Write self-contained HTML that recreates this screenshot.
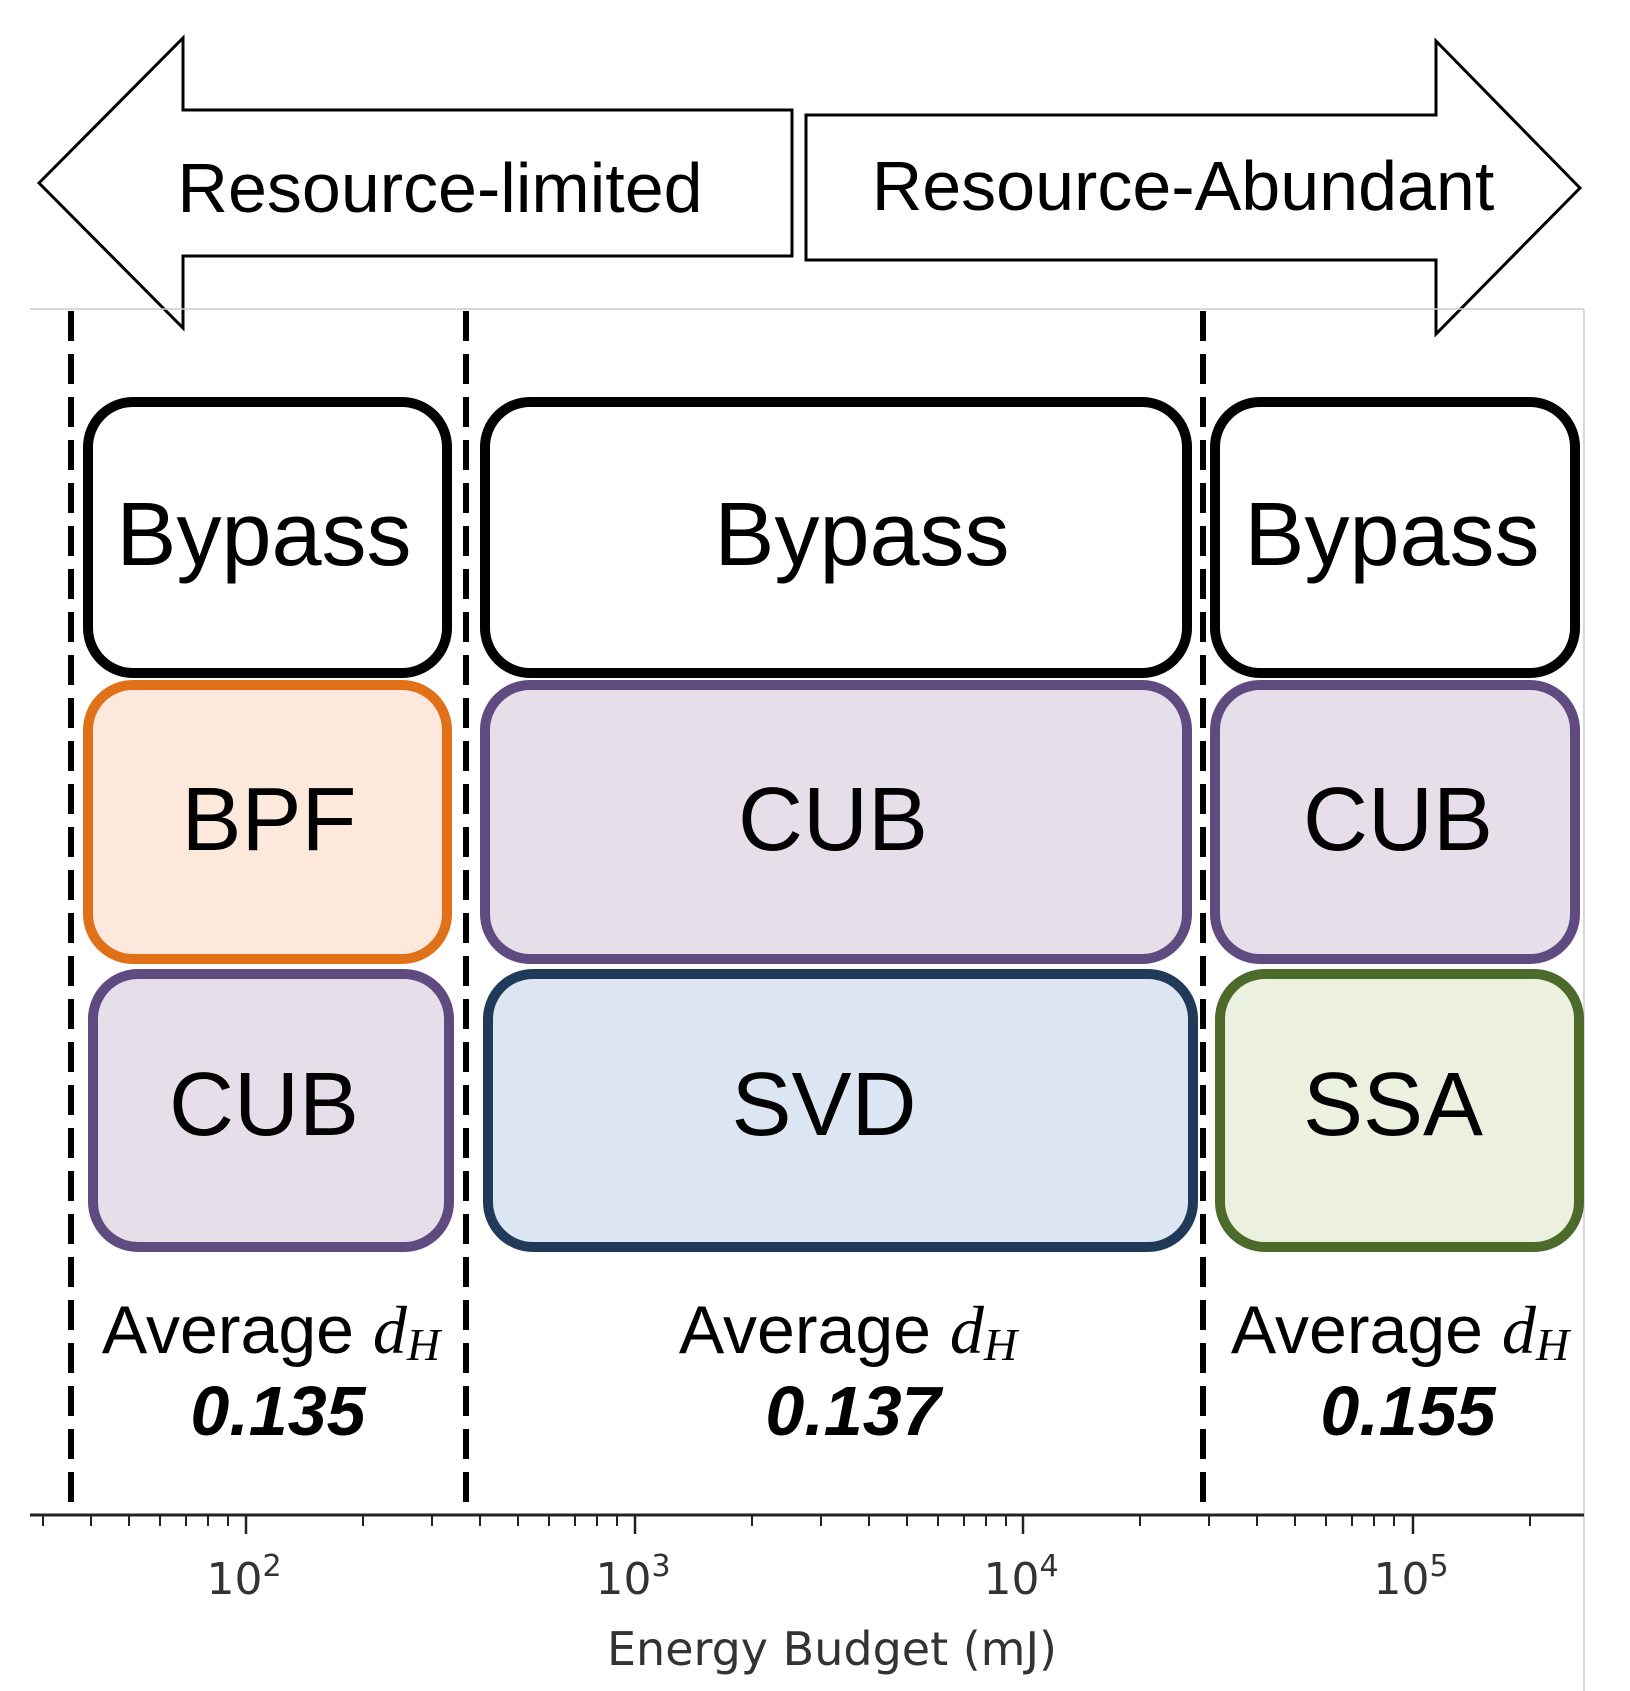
<!DOCTYPE html>
<html><head><meta charset="utf-8"><style>
body{margin:0;background:#fff}
svg{display:block}
.b{font-family:"Liberation Sans",sans-serif;text-anchor:middle;dominant-baseline:central}
</style></head><body>
<svg width="1630" height="1691" viewBox="0 0 1630 1691" xmlns="http://www.w3.org/2000/svg">
<rect width="1630" height="1691" fill="#fff"/>
<polygon points="39,183 183,38 183,110 792,110 792,256 183,256 183,328" fill="#fff" stroke="#000" stroke-width="3"/>
<polygon points="1580,188 1436,41 1436,115 806,115 806,260 1436,260 1436,334" fill="#fff" stroke="#000" stroke-width="3"/>
<text x="440" y="188" class="b" font-size="70">Resource-limited</text>
<text x="1183" y="186" class="b" font-size="70">Resource-Abundant</text>
<line x1="30" y1="309" x2="1584" y2="309" stroke="#ccc" stroke-width="1.5"/>
<line x1="1584" y1="309" x2="1584" y2="1691" stroke="#ccc" stroke-width="1.5"/>
<g stroke="#000" stroke-width="6" stroke-dasharray="30,13">
<line x1="71" y1="311" x2="71" y2="1515"/>
<line x1="466" y1="311" x2="466" y2="1515"/>
<line x1="1203" y1="311" x2="1203" y2="1515"/>
</g>
<g stroke-width="10">
<rect x="88" y="402" width="359" height="271" rx="45" fill="#fff" stroke="#000"/>
<rect x="485" y="402" width="702" height="271" rx="45" fill="#fff" stroke="#000"/>
<rect x="1215" y="402" width="360" height="271" rx="45" fill="#fff" stroke="#000"/>
<rect x="88" y="685" width="359" height="274" rx="45" fill="#fce9dc" stroke="#e07119"/>
<rect x="485" y="685" width="702" height="274" rx="45" fill="#e6dfea" stroke="#5f4b80"/>
<rect x="1215" y="685" width="360" height="274" rx="45" fill="#e6dfea" stroke="#5f4b80"/>
<rect x="93" y="974" width="356" height="273" rx="45" fill="#e6dfea" stroke="#5f4b80"/>
<rect x="488" y="974" width="705" height="273" rx="45" fill="#dce6f2" stroke="#213a59"/>
<rect x="1220" y="974" width="359" height="273" rx="45" fill="#ecf0df" stroke="#4c6a2a"/>
</g>
<g font-size="90">
<text x="264" y="535" class="b">Bypass</text>
<text x="862" y="535" class="b">Bypass</text>
<text x="1392" y="535" class="b">Bypass</text>
<text x="269" y="820" class="b">BPF</text>
<text x="833" y="820" class="b">CUB</text>
<text x="1398" y="820" class="b">CUB</text>
<text x="264" y="1105" class="b">CUB</text>
<text x="824" y="1105" class="b">SVD</text>
<text x="1393" y="1105" class="b">SSA</text>
</g>
<g font-size="68">
<text x="271" y="1330" class="b">Average <tspan font-family="Liberation Serif" font-style="italic">d</tspan><tspan font-family="Liberation Serif" font-style="italic" font-size="46" dy="14">H</tspan></text>
<text x="848" y="1330" class="b">Average <tspan font-family="Liberation Serif" font-style="italic">d</tspan><tspan font-family="Liberation Serif" font-style="italic" font-size="46" dy="14">H</tspan></text>
<text x="1400" y="1330" class="b">Average <tspan font-family="Liberation Serif" font-style="italic">d</tspan><tspan font-family="Liberation Serif" font-style="italic" font-size="46" dy="14">H</tspan></text>
<text x="278" y="1411" class="b" font-size="70" font-weight="bold" font-style="italic">0.135</text>
<text x="853" y="1411" class="b" font-size="70" font-weight="bold" font-style="italic">0.137</text>
<text x="1408" y="1411" class="b" font-size="70" font-weight="bold" font-style="italic">0.155</text>
</g>
<line x1="30" y1="1515" x2="1584" y2="1515" stroke="#222" stroke-width="3"/>
<g stroke="#222" stroke-width="2">
<line x1="43" y1="1515" x2="43" y2="1526"/><line x1="91" y1="1515" x2="91" y2="1526"/><line x1="129" y1="1515" x2="129" y2="1526"/><line x1="160" y1="1515" x2="160" y2="1526"/><line x1="186" y1="1515" x2="186" y2="1526"/><line x1="208" y1="1515" x2="208" y2="1526"/><line x1="228" y1="1515" x2="228" y2="1526"/>
<line x1="363" y1="1515" x2="363" y2="1526"/><line x1="432" y1="1515" x2="432" y2="1526"/><line x1="480" y1="1515" x2="480" y2="1526"/><line x1="518" y1="1515" x2="518" y2="1526"/><line x1="549" y1="1515" x2="549" y2="1526"/><line x1="575" y1="1515" x2="575" y2="1526"/><line x1="597" y1="1515" x2="597" y2="1526"/><line x1="617" y1="1515" x2="617" y2="1526"/>
<line x1="752" y1="1515" x2="752" y2="1526"/><line x1="821" y1="1515" x2="821" y2="1526"/><line x1="869" y1="1515" x2="869" y2="1526"/><line x1="907" y1="1515" x2="907" y2="1526"/><line x1="938" y1="1515" x2="938" y2="1526"/><line x1="964" y1="1515" x2="964" y2="1526"/><line x1="986" y1="1515" x2="986" y2="1526"/><line x1="1006" y1="1515" x2="1006" y2="1526"/>
<line x1="1140" y1="1515" x2="1140" y2="1526"/><line x1="1209" y1="1515" x2="1209" y2="1526"/><line x1="1257" y1="1515" x2="1257" y2="1526"/><line x1="1295" y1="1515" x2="1295" y2="1526"/><line x1="1326" y1="1515" x2="1326" y2="1526"/><line x1="1352" y1="1515" x2="1352" y2="1526"/><line x1="1374" y1="1515" x2="1374" y2="1526"/><line x1="1394" y1="1515" x2="1394" y2="1526"/>
<line x1="1530" y1="1515" x2="1530" y2="1526"/>
</g>
<g stroke="#222" stroke-width="2.5">
<line x1="246" y1="1515" x2="246" y2="1534"/><line x1="635" y1="1515" x2="635" y2="1534"/><line x1="1023" y1="1515" x2="1023" y2="1534"/><line x1="1413" y1="1515" x2="1413" y2="1534"/>
</g>
<g font-family="DejaVu Sans,sans-serif" font-size="44" fill="#333" text-anchor="middle">
<text x="244" y="1594">10<tspan font-size="30" dy="-18">2</tspan></text>
<text x="633" y="1594">10<tspan font-size="30" dy="-18">3</tspan></text>
<text x="1021" y="1594">10<tspan font-size="30" dy="-18">4</tspan></text>
<text x="1411" y="1594">10<tspan font-size="30" dy="-18">5</tspan></text>
<text x="832" y="1665" font-size="46">Energy Budget (mJ)</text>
</g>
</svg>
</body></html>
